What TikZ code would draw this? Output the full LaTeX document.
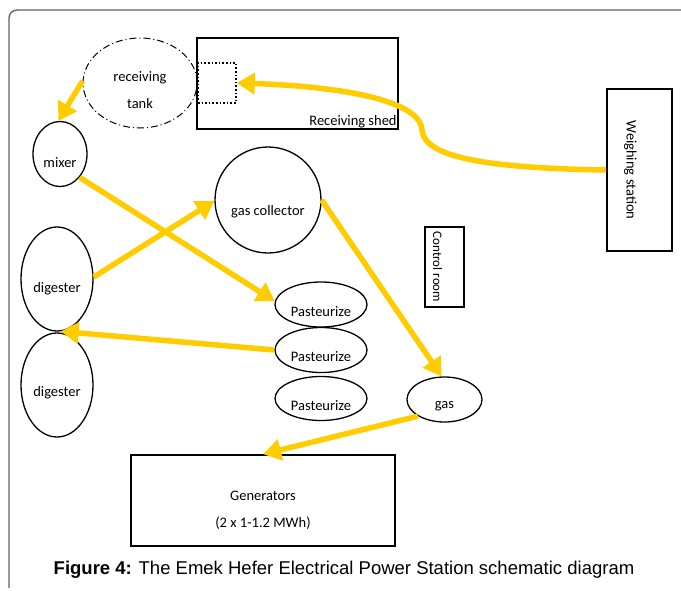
\documentclass[tikz,border=0pt]{standalone}
\usepackage{fontspec}
\setmainfont{Carlito}
\newfontfamily\capfont{Liberation Sans}
\usepackage{tikz}
\usetikzlibrary{shapes.geometric,arrows.meta}

\definecolor{flowyellow}{RGB}{255,204,0}
\definecolor{framegray}{RGB}{95,95,95}

\tikzset{
  unit/.style={ellipse,draw,line width=1.3pt,inner sep=0pt},
  room/.style={rectangle,draw,line width=1.6pt,inner sep=0pt},
  flow/.style={draw=flowyellow,line width=5.5pt,-{Triangle[length=18pt,width=21pt]}},
  lbl/.style={font=\fontsize{14.5}{17}\selectfont},
}

\begin{document}
\begin{tikzpicture}[x=1pt,y=-1pt]
\useasboundingbox (0,0) rectangle (681,590);
% outer frame
\draw[framegray,line width=1.3pt,rounded corners=8pt] (9,588) -- (9,10) -- (681,10);

% buildings
\node[room,minimum width=201,minimum height=91] (shed) at (297.5,83.5) {};
\node[lbl,anchor=south east,inner sep=2pt] (shedname) at (shed.south east) {Receiving shed};
\node[rectangle,draw,dotted,line width=1.6pt,minimum width=38,minimum height=40] (inlet) at (217,83) {};
\node[ellipse,draw,dash pattern=on 7pt off 3pt on 1pt off 3pt,line width=1pt,minimum width=114,minimum height=90,inner sep=0pt,
  label={[lbl,align=center,yshift=-7pt]center:receiving\\[10pt]tank}] (tank) at (140,83) {};
\node[room,minimum width=65,minimum height=162,label={[lbl,xshift=-9pt,rotate=-90]center:Weighing station}] (weigh) at (639.5,170) {};
\node[room,minimum width=39,minimum height=80,label={[font=\fontsize{13}{15}\selectfont,xshift=-7pt,rotate=-90]center:Control room}] (control) at (444.5,267) {};
\node[room,minimum width=264,minimum height=91,label={[lbl,align=center,yshift=-10pt]center:Generators\\[10pt](2 x 1-1.2 MWh)}] (gen) at (263,500.5) {};

% process units
\node[unit,minimum width=54,minimum height=65,label={[lbl,yshift=-9pt]center:mixer}] (mixer) at (60,154) {};
\node[unit,minimum width=72,minimum height=104,label={[lbl,yshift=-10pt]center:digester}] (dig1) at (57,279) {};
\node[unit,minimum width=72,minimum height=104,label={[lbl,yshift=-8pt]center:digester}] (dig2) at (57,385) {};
\node[circle,draw,line width=1.3pt,minimum size=106,inner sep=0pt,label={[lbl,yshift=-12pt]center:gas collector}] (gc) at (268,200) {};
\node[unit,minimum width=92,minimum height=45,label={[lbl,yshift=-7pt]center:Pasteurize}] (past1) at (321,304.5) {};
\node[unit,minimum width=92,minimum height=45,label={[lbl,yshift=-7pt]center:Pasteurize}] (past2) at (321,350) {};
\node[unit,minimum width=92,minimum height=44,label={[lbl,yshift=-7pt]center:Pasteurize}] (past3) at (321,398.5) {};
\node[unit,minimum width=75,minimum height=45,label={[lbl,yshift=-7pt]center:gas}] (gas) at (444.5,399.5) {};

% flows
\draw[flow] (tank.178) -- (mixer.93);
\draw[flow] (mixer.-50) -- (past1.176);
\draw[flow] (dig1.3) -- (gc.181);
\draw[flow] (past2.west) -- (dig1.-86);
\draw[flow] (gc.east) -- (gas.97);
\draw[flow] (gas.212) -- (gen.north);
\draw[flow] (weigh.west) .. controls (480,168) and (424,156) .. (422,130)
  .. controls (420,98) and (330,86) .. (inlet.east);

% caption
\node[font=\capfont\fontsize{18.5}{21}\selectfont] (caption) at (344,570) {\textbf{Figure 4:} The Emek Hefer Electrical Power Station schematic diagram};
\end{tikzpicture}
\end{document}
